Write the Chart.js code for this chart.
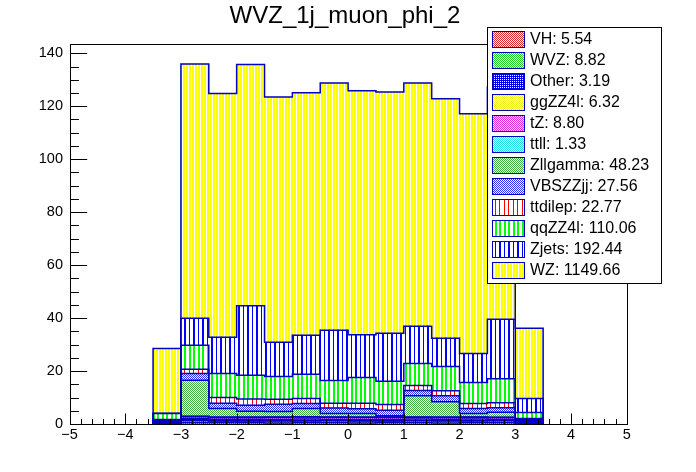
<!DOCTYPE html>
<html lang="en">
<head>
<meta charset="UTF-8">
<title>WVZ_1j_muon_phi_2</title>
<script src="https://cdn.jsdelivr.net/npm/chart.js"></script>
<style>
  html, body { margin: 0; padding: 0; background: #fff; }
</style>
</head>
<body>
<canvas id="myChart" width="696" height="472"></canvas>
<script>
// bins of 0.5 from -3.5 to 3.5
const binCenters = [-3.25, -2.75, -2.25, -1.75, -1.25, -0.75, -0.25, 0.25, 0.75, 1.25, 1.75, 2.25, 2.75, 3.25];

// stacking order, bottom first (same as legend order)
const names  = ['VH', 'WVZ', 'Other', 'ggZZ4l', 'tZ', 'ttll', 'Zllgamma', 'VBSZZjj', 'ttdilep', 'qqZZ4l', 'Zjets', 'WZ'];
const yields = ['5.54', '8.82', '3.19', '6.32', '8.80', '1.33', '48.23', '27.56', '22.77', '110.06', '192.44', '1149.66'];

const vh       = [0.1, 0.5, 0.45, 0.45, 0.4, 0.45, 0.45, 0.4, 0.45, 0.45, 0.4, 0.45, 0.45, 0.1];
const wvz      = [0.1, 0.75, 0.7, 0.7, 0.7, 0.7, 0.75, 0.7, 0.7, 0.75, 0.7, 0.7, 0.75, 0.1];
const other    = [0.5, 0.4, 0.1, 0.1, 0.2, 0.2, 0.1, 0.1, 0.1, 0.1, 0.2, 0.2, 0.1, 0.7];
const ggzz4l   = [0.1, 0.5, 0.55, 0.55, 0.5, 0.55, 0.5, 0.5, 0.55, 0.55, 0.5, 0.5, 0.5, 0.1];
const tz       = [0.1, 0.7, 0.7, 0.7, 0.75, 0.75, 0.75, 0.75, 0.75, 0.7, 0.7, 0.7, 0.65, 0.1];
const ttll     = [0.02, 0.1, 0.1, 0.1, 0.1, 0.1, 0.1, 0.15, 0.1, 0.1, 0.1, 0.1, 0.1, 0.02];
const zllgamma = [0.2, 13.6, 3.3, 2.2, 2.1, 3.1, 1.3, 1.4, 0.5, 8.0, 5.8, 1.3, 1.9, 0.2];
const vbszzjj  = [0.3, 2.5, 1.9, 2.3, 2.7, 1.9, 2.1, 1.8, 2.0, 2.0, 2.3, 1.9, 1.7, 0.4];
const ttdilep  = [0.3, 1.6, 2.2, 2.3, 1.9, 1.9, 1.8, 2.0, 2.2, 1.9, 1.9, 1.9, 1.9, 0.4];
const qqzz4l   = [2.2, 9.1, 9.1, 9.0, 8.6, 9.1, 8.6, 9.8, 8.8, 8.3, 9.1, 7.9, 9.0, 2.2];
const zjets    = [0.1, 10.2, 13.7, 26.3, 12.9, 14.8, 19.0, 16.1, 18.1, 14.1, 10.7, 11.0, 22.5, 5.3];
const wz       = [24.5, 96.0, 92.0, 91.1, 92.6, 91.5, 93.3, 92.1, 91.1, 91.8, 90.4, 90.5, 87.7, 26.5];

const xTicks = [-5, -4, -3, -2, -1, 0, 1, 2, 3, 4, 5];
const yTicks = [0, 20, 40, 60, 80, 100, 120, 140];

const layers = [vh, wvz, other, ggzz4l, tz, ttll, zllgamma, vbszzjj, ttdilep, qqzz4l, zjets, wz];

const lineBlue = '#0000c0';
const font = 'Liberation Sans, Arial, Helvetica, sans-serif';

// small root-like fill patterns
function stripes(color, w, cols) {
  const c = document.createElement('canvas');
  c.width = w; c.height = 1;
  const g = c.getContext('2d');
  g.fillStyle = '#fff'; g.fillRect(0, 0, w, 1);
  g.fillStyle = color;
  cols.forEach(x => g.fillRect(x, 0, 1, 1));
  return g.createPattern(c, 'repeat');
}
function checker(color, dense) {
  const c = document.createElement('canvas');
  c.width = 2; c.height = 2;
  const g = c.getContext('2d');
  g.fillStyle = '#fff'; g.fillRect(0, 0, 2, 2);
  g.fillStyle = color;
  g.fillRect(0, 0, 1, 1); g.fillRect(1, 1, 1, 1);
  if (dense) g.fillRect(1, 0, 1, 1);
  return g.createPattern(c, 'repeat');
}

const fills = [
  checker('#e02828'),          // VH
  checker('#20d020'),          // WVZ
  checker('#0000e0', true),    // Other
  checker('#eeee20'),          // ggZZ4l
  checker('#e020e0'),          // tZ
  checker('#20e0e0'),          // ttll
  checker('#40b040'),          // Zllgamma
  checker('#3030f0'),          // VBSZZjj
  stripes('#ff0000', 9, [0, 4]),        // ttdilep
  stripes('#00ff00', 9, [0, 1, 4, 5]),  // qqZZ4l
  stripes('#0000ff', 9, [0, 4, 5]),     // Zjets
  stripes('#ffff00', 3, [0, 1])         // WZ
];

// outlines, frame, inward ticks, title and the legend box, drawn ROOT style
const rootLook = {
  id: 'rootLook',
  afterDatasetsDraw(chart) {
    const ctx = chart.ctx;
    const xs = chart.scales.x, ys = chart.scales.y;
    const a = chart.chartArea;
    const y0 = ys.getPixelForValue(0);
    ctx.save();
    ctx.strokeStyle = lineBlue;
    ctx.lineWidth = 1.5;
    for (let d = chart.data.datasets.length - 1; d >= 0; d--) {
      const els = chart.getDatasetMeta(d).data;
      ctx.beginPath();
      els.forEach((el, j) => {
        const l = el.x - el.width / 2, r = el.x + el.width / 2;
        if (j === 0) ctx.moveTo(l, y0);
        ctx.lineTo(l, el.y);
        ctx.lineTo(r, el.y);
        if (j === els.length - 1) ctx.lineTo(r, y0);
      });
      ctx.stroke();
    }
    ctx.restore();

    ctx.save();
    ctx.strokeStyle = '#000';
    ctx.lineWidth = 1;
    ctx.strokeRect(Math.round(a.left) + 0.5, Math.round(a.top) + 0.5,
                   Math.round(a.right - a.left), Math.round(a.bottom - a.top));
    ctx.beginPath();
    const bot = Math.round(a.bottom) + 0.5, lft = Math.round(a.left) + 0.5;
    for (let k = 0; k <= 50; k++) {
      const v = -5 + k * 0.2;
      const px = Math.round(xs.getPixelForValue(v)) + 0.5;
      const len = (k % 5 === 0) ? 11 : 5.5;
      ctx.moveTo(px, bot); ctx.lineTo(px, bot - len);
    }
    for (let v = 0; v <= ys.max; v += 5) {
      const py = Math.round(ys.getPixelForValue(v)) + 0.5;
      const len = (v % 20 === 0) ? 16.7 : 8.4;
      ctx.moveTo(lft, py); ctx.lineTo(lft + len, py);
    }
    ctx.stroke();
    ctx.restore();
  },
  afterDraw(chart) {
    const ctx = chart.ctx;
    ctx.save();
    ctx.fillStyle = '#000';
    ctx.font = '24px ' + font;
    ctx.textAlign = 'center';
    ctx.textBaseline = 'alphabetic';
    ctx.fillText('WVZ_1j_muon_phi_2', 345, 22.5);

    ctx.textAlign = 'left';
    ctx.fillStyle = '#fff';
    ctx.fillRect(487.5, 27.5, 174, 256);
    ctx.strokeStyle = '#000';
    ctx.lineWidth = 1;
    ctx.strokeRect(487.5, 27.5, 174, 256);
    ctx.font = '16px ' + font;
    ctx.textBaseline = 'middle';
    names.forEach((n, i) => {
      const cy = 39.3 + i * 21;
      ctx.fillStyle = fills[i];
      ctx.fillRect(492.5, Math.round(cy - 8) + 0.5, 32, 16);
      ctx.strokeStyle = lineBlue;
      ctx.strokeRect(492.5, Math.round(cy - 8) + 0.5, 32, 16);
      ctx.fillStyle = '#000';
      ctx.fillText(n + ': ' + yields[i], 530, cy);
    });
    ctx.restore();
  }
};

const ctx = document.getElementById('myChart');
new Chart(ctx, {
  type: 'bar',
  data: {
    datasets: layers.map((vals, i) => ({
      label: names[i],
      data: binCenters.map((x, j) => ({ x: x, y: vals[j] })),
      backgroundColor: fills[i],
      borderWidth: 0,
      categoryPercentage: 1,
      barPercentage: 1,
      stack: 'all'
    }))
  },
  options: {
    responsive: false,
    animation: false,
    devicePixelRatio: 1,
    events: [],
    layout: { padding: { left: 0, right: 69.3, top: 44, bottom: 0 } },
    plugins: {
      legend: { display: false },
      tooltip: { enabled: false },
      title: { display: false }
    },
    scales: {
      x: {
        type: 'linear',
        min: -5, max: 5,
        offset: false,
        stacked: true,
        grid: { display: false, drawTicks: false },
        border: { display: false },
        afterBuildTicks: s => { s.ticks = xTicks.map(v => ({ value: v })); },
        afterFit: s => { s.height = 48; },
        ticks: {
          color: '#000',
          padding: 2,
          autoSkip: false,
          maxRotation: 0,
          font: { family: font, size: 14.5 },
          callback: v => v < 0 ? '\u2212' + Math.abs(v) : String(v)
        }
      },
      y: {
        min: 0, max: 143.5,
        stacked: true,
        grid: { display: false, drawTicks: false },
        border: { display: false },
        afterBuildTicks: s => { s.ticks = yTicks.map(v => ({ value: v })); },
        afterFit: s => { s.width = 69.5; },
        ticks: {
          color: '#000',
          padding: 6.5,
          font: { family: font, size: 14.5 }
        }
      }
    }
  },
  plugins: [rootLook]
});
</script>
</body>
</html>
